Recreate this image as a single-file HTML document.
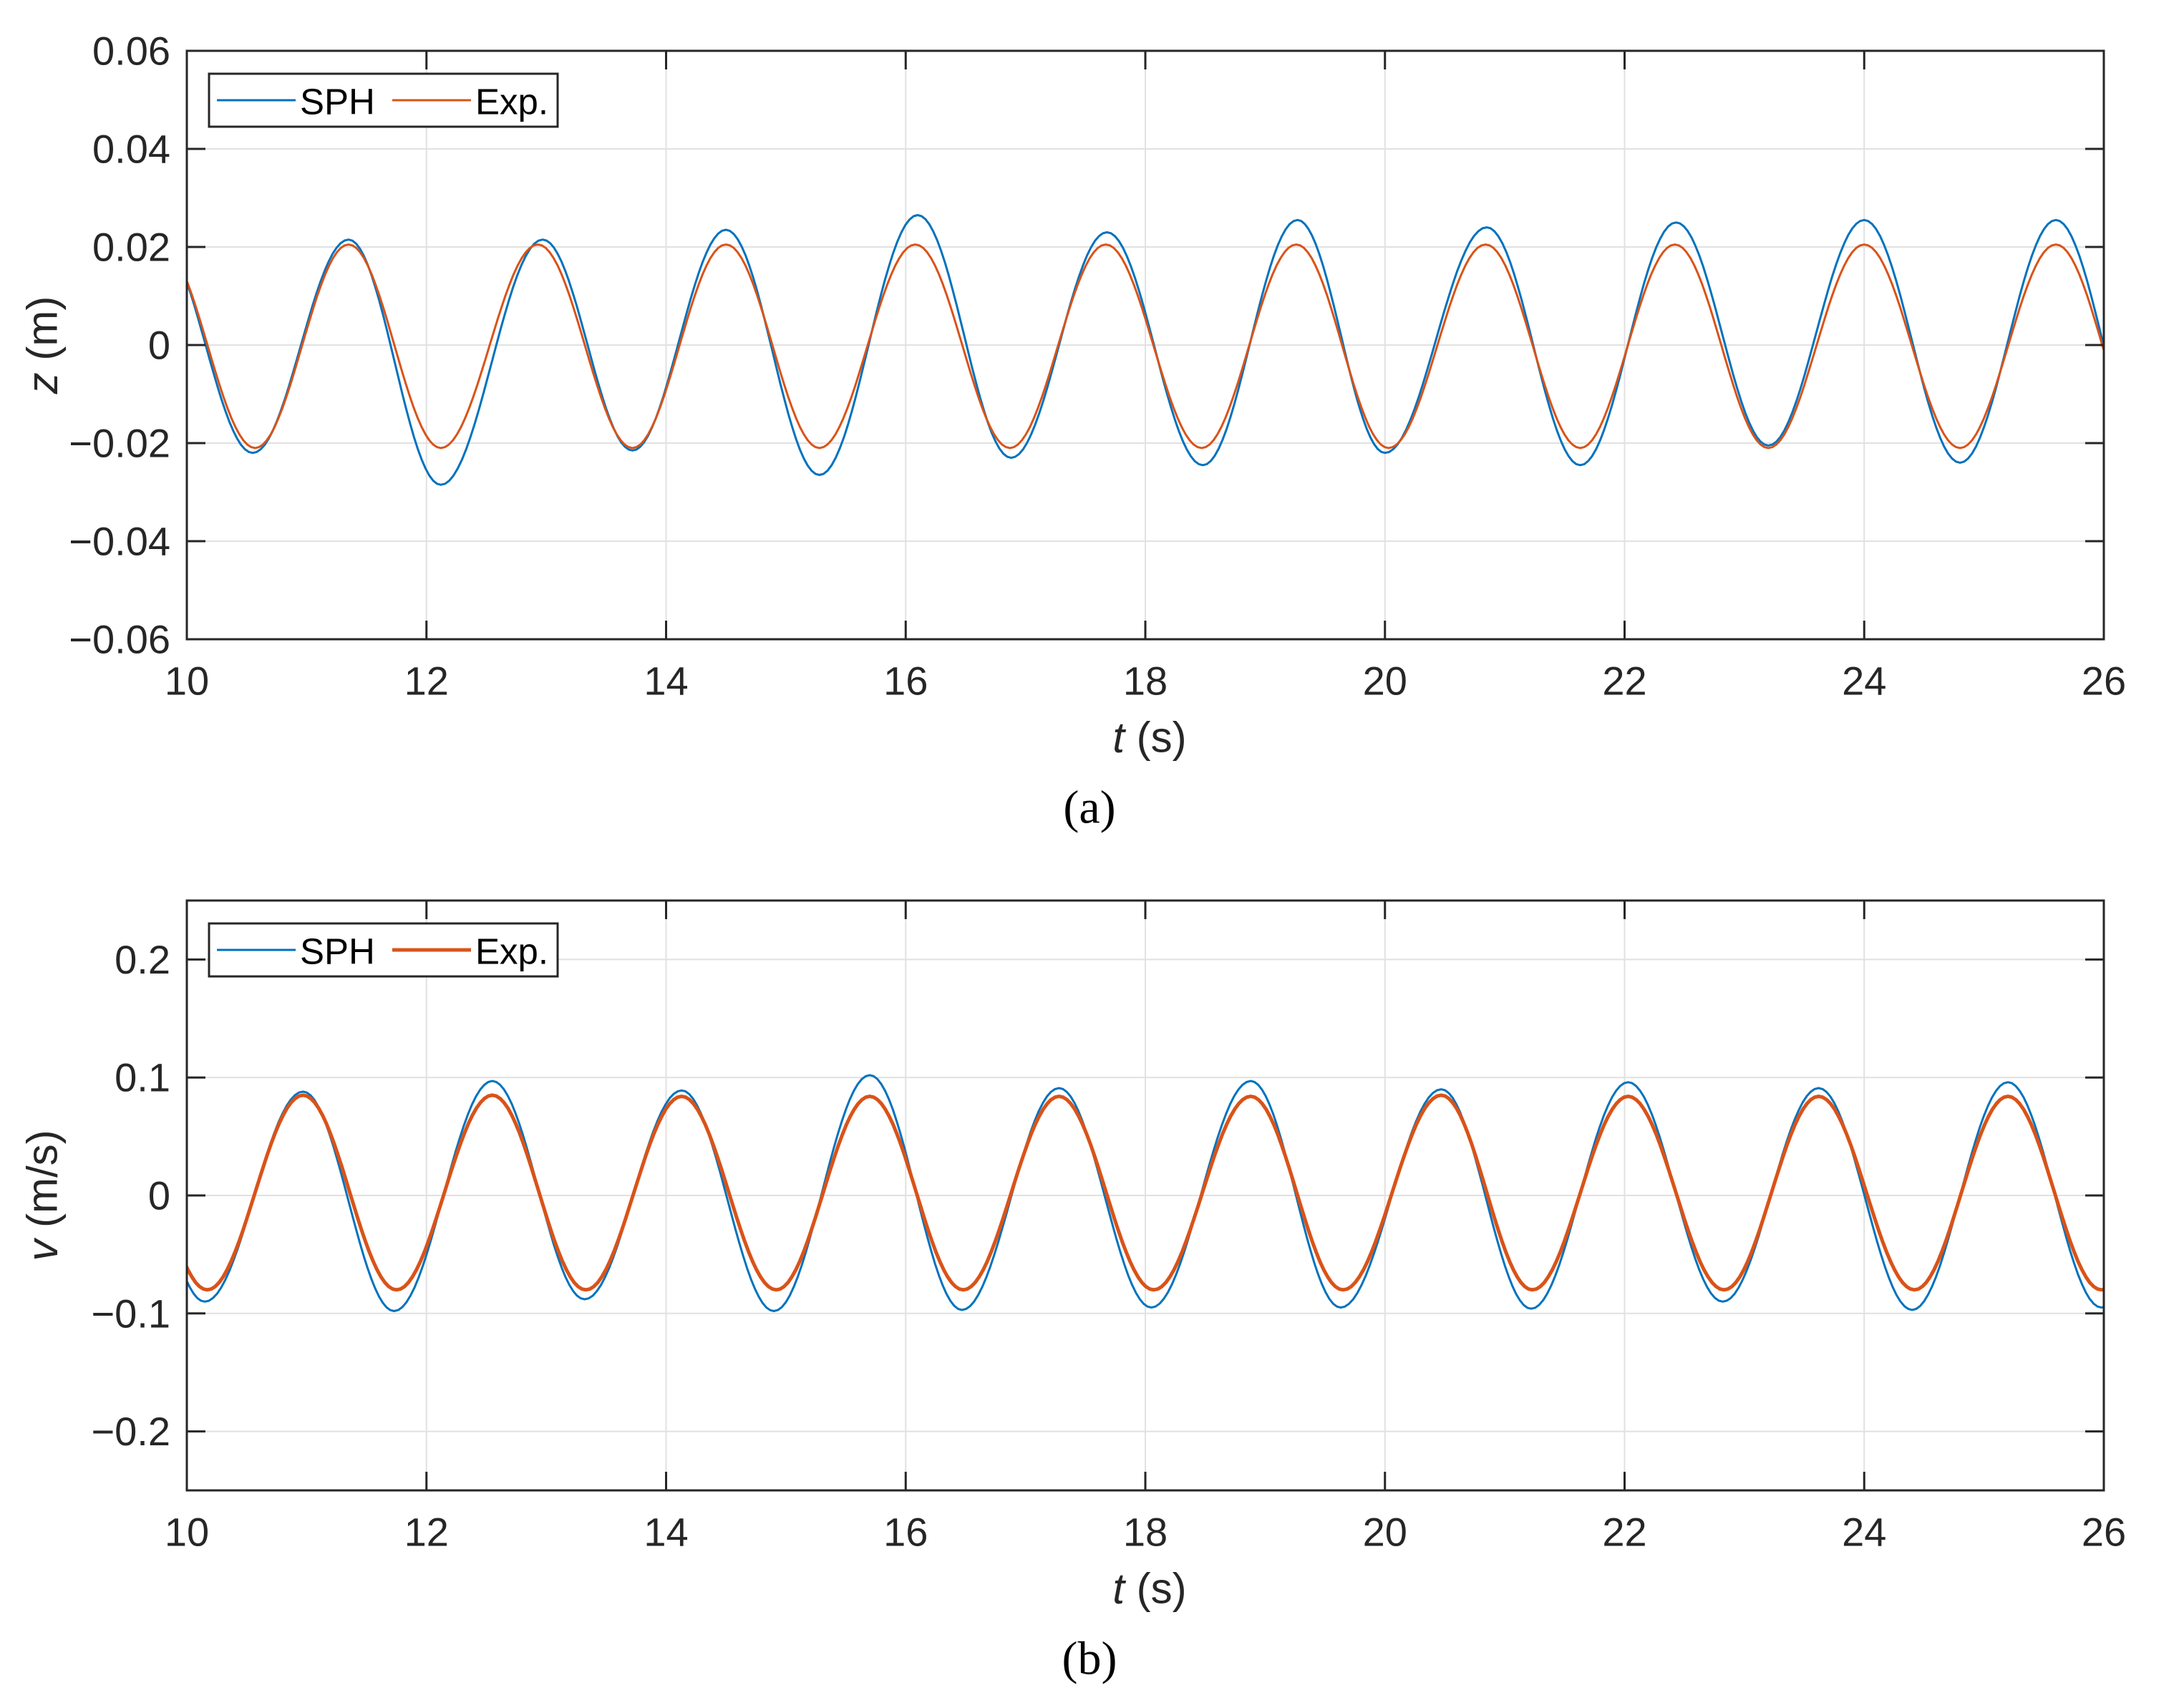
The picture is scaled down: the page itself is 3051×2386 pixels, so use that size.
<!DOCTYPE html>
<html><head><meta charset="utf-8"><style>
html,body{margin:0;padding:0;background:#fff;}
svg{display:block;font-family:"Liberation Sans",Arial,sans-serif;}
</style></head><body>
<svg id="fig" width="3051" height="2386" viewBox="0 0 3051 2386" xmlns="http://www.w3.org/2000/svg">
<defs>
<clipPath id="ca"><rect x="261" y="71" width="2678" height="822"/></clipPath>
<clipPath id="cb"><rect x="261" y="1258" width="2678" height="824"/></clipPath>
</defs>
<rect width="3051" height="2386" fill="#fff"/>
<g id="pa"></g>
<g id="pb"></g>
</svg>
<script>
// x ticks
const xTicks = [10,12,14,16,18,20,22,24,26];
// Panel (a): z displacement extrema (time, value)
const zTicks = [-0.06,-0.04,-0.02,0,0.02,0.04,0.06];
const zTickLabels = ["\u22120.06","\u22120.04","\u22120.02","0","0.02","0.04","0.06"];
const zSphT = [9.77,10.55,11.35,12.12,12.97,13.72,14.5,15.28,16.1,16.88,17.68,18.48,19.27,20.0,20.85,21.63,22.43,23.2,24.0,24.8,25.6,26.38];
const zSphV = [0.0215,-0.022,0.0215,-0.0285,0.0215,-0.0215,0.0235,-0.0265,0.0265,-0.023,0.023,-0.0245,0.0255,-0.022,0.024,-0.0245,0.025,-0.0205,0.0255,-0.024,0.0255,-0.024];
const zExpT = [9.78,10.57,11.35,12.12,12.93,13.72,14.5,15.28,16.08,16.87,17.67,18.47,19.26,20.03,20.84,21.63,22.42,23.2,24.0,24.8,25.6,26.38];
const zExpV = [0.0205,-0.021,0.0205,-0.021,0.0205,-0.021,0.0205,-0.021,0.0205,-0.021,0.0205,-0.021,0.0205,-0.021,0.0205,-0.021,0.0205,-0.021,0.0205,-0.021,0.0205,-0.021];
// Panel (b): velocity extrema
const vTicks = [-0.2,-0.1,0,0.1,0.2];
const vTickLabels = ["\u22120.2","\u22120.1","0","0.1","0.2"];
const vSphT = [9.4,10.15,10.97,11.73,12.55,13.32,14.13,14.9,15.7,16.47,17.28,18.05,18.88,19.63,20.47,21.22,22.03,22.82,23.62,24.4,25.2,25.98,26.8];
const vSphV = [0.09,-0.09,0.088,-0.098,0.097,-0.088,0.089,-0.098,0.102,-0.097,0.091,-0.095,0.097,-0.095,0.09,-0.096,0.096,-0.09,0.091,-0.097,0.096,-0.095,0.09];
const vExpT = [9.4,10.17,10.97,11.75,12.55,13.33,14.13,14.92,15.7,16.48,17.28,18.07,18.88,19.65,20.47,21.23,22.03,22.83,23.62,24.42,25.2,25.98,26.8];
const vExpV = [0.084,-0.08,0.085,-0.08,0.085,-0.08,0.084,-0.08,0.084,-0.08,0.084,-0.08,0.084,-0.08,0.085,-0.08,0.084,-0.08,0.084,-0.08,0.084,-0.08,0.084];

const NS = "http://www.w3.org/2000/svg";
function mk(parent, tag, attrs){const e=document.createElementNS(NS,tag);for(const k in attrs)e.setAttribute(k,attrs[k]);parent.appendChild(e);return e;}

const L=261,R=2939;
function panel(g, clip, top, bot, yMin, yMax, yTicks, yLabels, s1T, s1V, s2T, s2V, expW, ylabVar, ylabUnit, cap){
  const xs = t => L + (t-10)/16*(R-L);
  const ys = v => bot - (v-yMin)/(yMax-yMin)*(bot-top);
  xTicks.forEach(t=>{ if(t>10&&t<26){const l=mk(g,'line',{x1:xs(t),x2:xs(t),y1:top,y2:bot,stroke:'#e1e1e1','stroke-width':2});
    
    }});
  yTicks.forEach(v=>{ const l=mk(g,'line',{x1:L,x2:R,y1:ys(v),y2:ys(v),stroke:'#e1e1e1','stroke-width':2});
    
    });
  const sg=mk(g,'g',{'clip-path':'url(#'+clip+')'});
  function series(T,V,color,w,name){
    let d='';
    for(let i=0;i<T.length-1;i++){
      const n=24;
      for(let k=(i===0?0:1);k<=n;k++){
        const u=k/n, t=T[i]+(T[i+1]-T[i])*u;
        const v=V[i]+(V[i+1]-V[i])*(1-Math.cos(Math.PI*u))/2;
        d+=(d?'L':'M')+xs(t).toFixed(1)+' '+ys(v).toFixed(1);
      }
    }
    const p=mk(sg,'path',{d:d,fill:'none',stroke:color,'stroke-width':w,'stroke-linejoin':'round'});
    
    
  }
  series(s1T,s1V,'#0072BD',3,'sph-line');
  series(s2T,s2V,'#D95319',expW,'exp-line');
  const bx=mk(g,'rect',{x:L,y:top,width:R-L,height:bot-top,fill:'none',stroke:'#262626','stroke-width':3});
  
  
  xTicks.forEach(t=>{
    mk(g,'line',{x1:xs(t),x2:xs(t),y1:bot,y2:bot-26,stroke:'#262626','stroke-width':3});
    mk(g,'line',{x1:xs(t),x2:xs(t),y1:top,y2:top+26,stroke:'#262626','stroke-width':3});
    const tx=mk(g,'text',{x:xs(t),y:bot+58,'text-anchor':'middle','dominant-baseline':'central','font-size':56,fill:'#262626'});
    tx.textContent=t;
    
    
  });
  yTicks.forEach((v,i)=>{
    mk(g,'line',{x1:L,x2:L+26,y1:ys(v),y2:ys(v),stroke:'#262626','stroke-width':3});
    mk(g,'line',{x1:R,x2:R-26,y1:ys(v),y2:ys(v),stroke:'#262626','stroke-width':3});
    const tx=mk(g,'text',{x:238,y:ys(v),'text-anchor':'end','dominant-baseline':'central','font-size':56,fill:'#262626'});
    tx.textContent=yLabels[i];
    
    
  });
  const xl=mk(g,'text',{x:1606,y:bot+137,'text-anchor':'middle','dominant-baseline':'central','font-size':60,fill:'#262626'});
  xl.innerHTML='<tspan font-style="italic">t</tspan> (s)';
  
  
  const cy=(top+bot)/2;
  const yl=mk(g,'text',{x:59,y:cy,'text-anchor':'middle','dominant-baseline':'central','font-size':60,fill:'#262626',transform:'rotate(-90 59 '+cy+')'});
  yl.innerHTML='<tspan font-style="italic">'+ylabVar+'</tspan> '+ylabUnit;
  
  
  const cp=mk(g,'text',{x:1522,y:bot+235,'text-anchor':'middle','dominant-baseline':'central','font-size':66,fill:'#000','font-family':'Liberation Serif, serif'});
  cp.textContent=cap;
  
  
  const lg=mk(g,'g',{});
  
  
  const ly=top+32, lh=74;
  mk(lg,'rect',{x:292,y:ly,width:487,height:lh,fill:'#fff',stroke:'#262626','stroke-width':3});
  const e1=mk(lg,'g',{});
  
  
  mk(e1,'line',{x1:303,x2:413,y1:ly+lh/2,y2:ly+lh/2,stroke:'#0072BD','stroke-width':3});
  const t1=mk(e1,'text',{x:419,y:ly+lh/2+2,'dominant-baseline':'central','font-size':51,fill:'#000'});t1.textContent='SPH';
  const e2=mk(lg,'g',{});
  
  
  mk(e2,'line',{x1:548,x2:658,y1:ly+lh/2,y2:ly+lh/2,stroke:'#D95319','stroke-width':expW});
  const t2=mk(e2,'text',{x:664,y:ly+lh/2+2,'dominant-baseline':'central','font-size':51,fill:'#000'});t2.textContent='Exp.';
}
panel(document.getElementById('pa'),'ca',71,893,-0.06,0.06,zTicks,zTickLabels,zSphT,zSphV,zExpT,zExpV,3,'z','(m)','(a)');
panel(document.getElementById('pb'),'cb',1258,2082,-0.25,0.25,vTicks,vTickLabels,vSphT,vSphV,vExpT,vExpV,5,'v','(m/s)','(b)');
</script>
</body></html>
